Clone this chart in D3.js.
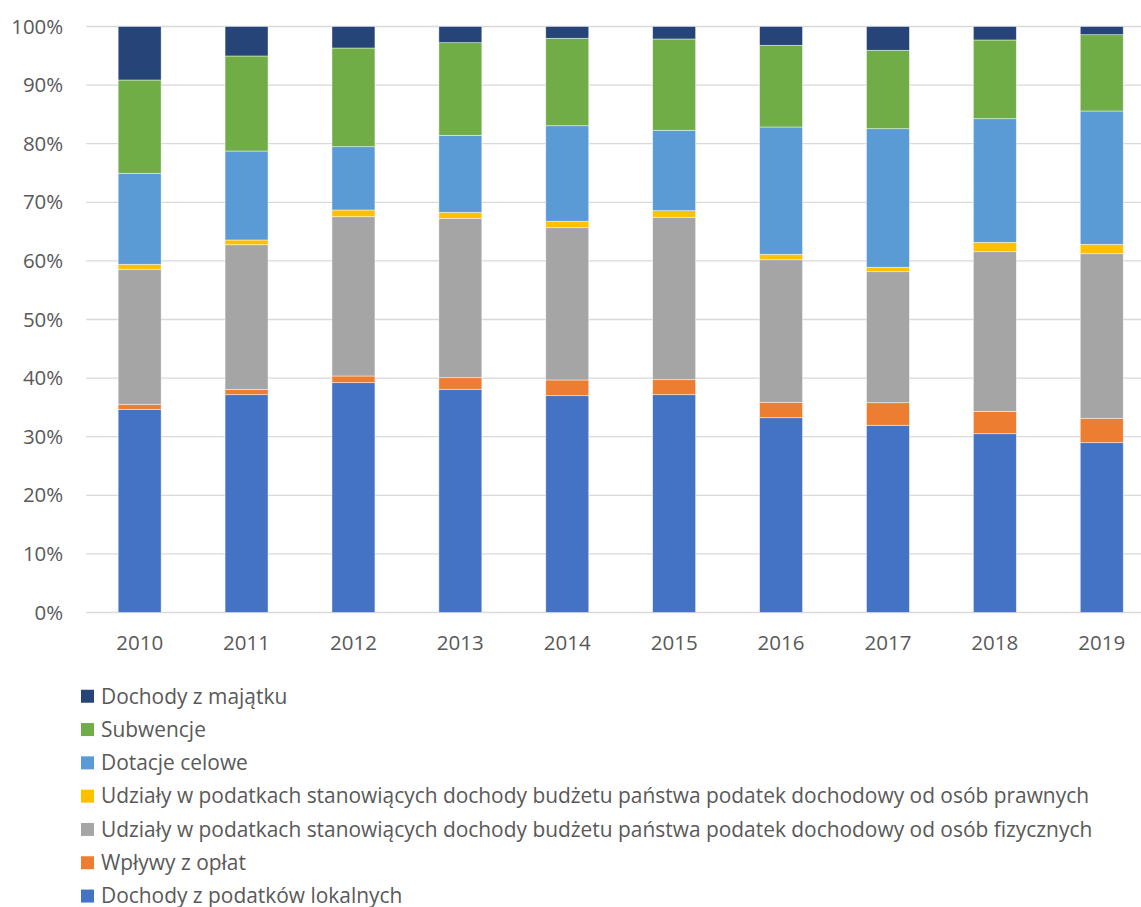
<!DOCTYPE html>
<html><head><meta charset="utf-8">
<script src="https://cdn.jsdelivr.net/npm/d3@7"></script>
<style>body{margin:0;background:#fff}svg{display:block}</style>
</head><body>
<svg id="c" width="1141" height="907"></svg>
<script>
const years = ["2010","2011","2012","2013","2014","2015","2016","2017","2018","2019"];
const seriesNames = [
  "Dochody z podatków lokalnych",
  "Wpływy z opłat",
  "Udziały w podatkach stanowiących dochody budżetu państwa podatek dochodowy od osób fizycznych",
  "Udziały w podatkach stanowiących dochody budżetu państwa podatek dochodowy od osób prawnych",
  "Dotacje celowe",
  "Subwencje",
  "Dochody z majątku"
];
const colors = ["#4472C4","#ED7D31","#A5A5A5","#FFC000","#5B9BD5","#70AD47","#264478"];
const podatkiLokalne = [34.67,37.17,39.22,38.09,37.00,37.17,33.24,31.95,30.51,28.98];
const oplaty        = [0.86,0.92,1.14,1.98,2.68,2.56,2.63,3.85,3.82,4.16];
const pitUdzialy    = [23.04,24.67,27.18,27.20,25.99,27.71,24.33,22.36,27.24,28.09];
const citUdzialy    = [0.85,0.81,1.15,1.02,1.09,1.13,0.93,0.75,1.60,1.60];
const dotacje       = [15.53,15.18,10.80,13.14,16.31,13.72,21.72,23.65,21.10,22.75];
const subwencje     = [15.92,16.22,16.84,15.81,14.92,15.58,13.94,13.38,13.43,13.02];
const majatek       = [9.13,5.03,3.67,2.76,2.01,2.13,3.21,4.06,2.30,1.40];
const yTicks = [0,10,20,30,40,50,60,70,80,90,100];

(function(){
const seriesValues = [podatkiLokalne, oplaty, pitUdzialy, citUdzialy, dotacje, subwencje, majatek];
const rows = years.map((yr,i)=>{const r={year:yr}; seriesNames.forEach((n,k)=>r[n]=seriesValues[k][i]); return r;});
const stacked = d3.stack().keys(seriesNames).offset(d3.stackOffsetExpand)(rows);

const svg = d3.select("#c");
const FONT = "Open Sans, sans-serif";
const TXT = "#595959";

function fitSize(str, width){
  const t = svg.append("text").attr("font-family",FONT).attr("font-size",100).text(str);
  const w = t.node().getComputedTextLength(); t.remove();
  return 100*width/w;
}

const plotLeft = 86.2, step = 106.9, plotTop = 26.5, plotBottom = 612.5;
const x = d3.scaleBand().domain(years).range([plotLeft, plotLeft+step*years.length]).paddingInner(0.598).paddingOuter(0.299);
const y = d3.scaleLinear().domain([0,1]).range([plotBottom, plotTop]);

svg.append("g").selectAll("line").data(yTicks).join("line")
  .attr("x1",plotLeft).attr("x2",1141)
  .attr("y1",d=>y(d/100)).attr("y2",d=>y(d/100))
  .attr("stroke","#D9D9D9").attr("stroke-width",1.3);

svg.append("g").selectAll("g").data(stacked).join("g")
  .attr("fill",(d,i)=>colors[i])
  .selectAll("rect").data(d=>d).join("rect")
  .attr("x",d=>x(d.data.year)).attr("width",x.bandwidth())
  .attr("y",d=>y(d[1])).attr("height",d=>y(d[0])-y(d[1]))
  .attr("stroke","#ffffff").attr("stroke-opacity",0.6).attr("stroke-width",0.75);

const yfs = fitSize("100%", 52);
const yAxis = d3.axisLeft(y).tickValues(yTicks.map(v=>v/100)).tickFormat(d3.format(".0%")).tickSize(0).tickPadding(23);
const ya = svg.append("g").attr("transform",`translate(${plotLeft},0)`).call(yAxis);
ya.select(".domain").remove();
ya.selectAll("text").attr("font-family",FONT).attr("font-size",yfs).attr("fill",TXT);

const xfs = fitSize("2010", 47);
const xAxis = d3.axisBottom(x).tickSize(0).tickPadding(23);
const xa = svg.append("g").attr("transform",`translate(0,${plotBottom})`).call(xAxis);
xa.select(".domain").remove();
xa.selectAll("text").attr("font-family",FONT).attr("font-size",xfs).attr("fill",TXT);

const legendOrder = seriesNames.map((n,i)=>i).reverse();
const lfs = fitSize(seriesNames[2], 992);
const ly = d3.scaleBand().domain(legendOrder).range([679.6, 679.6+33.3*7]);
const item = svg.append("g").selectAll("g").data(legendOrder).join("g")
  .attr("transform",d=>`translate(0,${ly(d)+ly.bandwidth()/2})`);
item.append("rect").attr("x",81).attr("y",-6.5).attr("width",13).attr("height",13).attr("fill",d=>colors[d]);
item.append("text").attr("x",101).attr("dy","0.35em").attr("font-family",FONT).attr("font-size",lfs).attr("fill",TXT)
  .text(d=>seriesNames[d]);
})();
</script>
</body></html>
